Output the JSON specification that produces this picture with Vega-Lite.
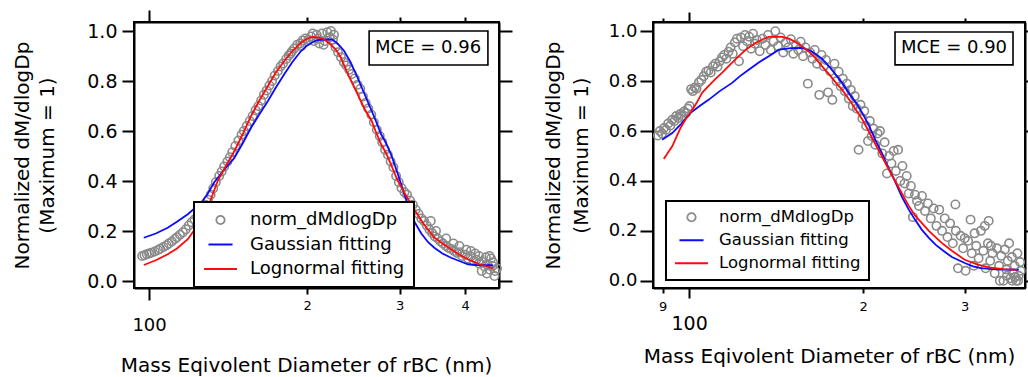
{
  "$schema": "https://vega.github.io/schema/vega-lite/v6.json",
  "padding": {"left": 11, "top": 8, "right": 0, "bottom": 0},
  "spacing": 28,
  "resolve": {"scale": {"color": "independent", "shape": "independent", "size": "independent"}, "legend": {"color": "independent", "shape": "independent", "size": "independent"}},
  "config": {
    "font": "DejaVu Sans",
    "view": {"stroke": "black", "strokeWidth": 2},
    "axis": {"grid": false, "domain": true, "domainColor": "black", "domainWidth": 2, "tickColor": "black", "tickWidth": 2, "labelColor": "black", "titleColor": "black", "titleFontWeight": "normal", "labelFont": "DejaVu Sans", "titleFont": "DejaVu Sans", "labelOverlap": false, "labelFlush": false, "labelBound": false},
    "legend": {"labelFont": "DejaVu Sans", "labelColor": "black", "labelLimit": 0}
  },
  "datasets": {
    "s1": [
      {"d":97,"v":0.100,"series":"norm_dMdlogDp"},{"d":98,"v":0.103,"series":"norm_dMdlogDp"},{"d":99,"v":0.107,"series":"norm_dMdlogDp"},{"d":100,"v":0.110,"series":"norm_dMdlogDp"},{"d":101,"v":0.113,"series":"norm_dMdlogDp"},{"d":102.5,"v":0.118,"series":"norm_dMdlogDp"},{"d":104,"v":0.124,"series":"norm_dMdlogDp"},{"d":105,"v":0.129,"series":"norm_dMdlogDp"},{"d":106.5,"v":0.136,"series":"norm_dMdlogDp"},{"d":108,"v":0.143,"series":"norm_dMdlogDp"},{"d":109,"v":0.150,"series":"norm_dMdlogDp"},{"d":110.5,"v":0.158,"series":"norm_dMdlogDp"},{"d":112,"v":0.168,"series":"norm_dMdlogDp"},{"d":113,"v":0.175,"series":"norm_dMdlogDp"},{"d":114.5,"v":0.185,"series":"norm_dMdlogDp"},{"d":116,"v":0.195,"series":"norm_dMdlogDp"},{"d":117.5,"v":0.207,"series":"norm_dMdlogDp"},{"d":119,"v":0.222,"series":"norm_dMdlogDp"},{"d":120.5,"v":0.235,"series":"norm_dMdlogDp"},{"d":122,"v":0.246,"series":"norm_dMdlogDp"},{"d":123.5,"v":0.255,"series":"norm_dMdlogDp"},{"d":125,"v":0.270,"series":"norm_dMdlogDp"},{"d":126.5,"v":0.285,"series":"norm_dMdlogDp"},{"d":128,"v":0.305,"series":"norm_dMdlogDp"},{"d":129.5,"v":0.325,"series":"norm_dMdlogDp"},{"d":131,"v":0.345,"series":"norm_dMdlogDp"},{"d":132.5,"v":0.370,"series":"norm_dMdlogDp"},{"d":134,"v":0.395,"series":"norm_dMdlogDp"},{"d":136,"v":0.420,"series":"norm_dMdlogDp"},{"d":137.5,"v":0.438,"series":"norm_dMdlogDp"},{"d":139,"v":0.458,"series":"norm_dMdlogDp"},{"d":141,"v":0.478,"series":"norm_dMdlogDp"},{"d":142.5,"v":0.495,"series":"norm_dMdlogDp"},{"d":144,"v":0.515,"series":"norm_dMdlogDp"},{"d":146,"v":0.540,"series":"norm_dMdlogDp"},{"d":148,"v":0.562,"series":"norm_dMdlogDp"},{"d":150,"v":0.585,"series":"norm_dMdlogDp"},{"d":151.5,"v":0.600,"series":"norm_dMdlogDp"},{"d":153.5,"v":0.620,"series":"norm_dMdlogDp"},{"d":155.5,"v":0.640,"series":"norm_dMdlogDp"},{"d":157.5,"v":0.660,"series":"norm_dMdlogDp"},{"d":159.5,"v":0.683,"series":"norm_dMdlogDp"},{"d":161.5,"v":0.700,"series":"norm_dMdlogDp"},{"d":163.5,"v":0.722,"series":"norm_dMdlogDp"},{"d":165.5,"v":0.745,"series":"norm_dMdlogDp"},{"d":167.5,"v":0.762,"series":"norm_dMdlogDp"},{"d":169.5,"v":0.782,"series":"norm_dMdlogDp"},{"d":171.5,"v":0.800,"series":"norm_dMdlogDp"},{"d":173.5,"v":0.822,"series":"norm_dMdlogDp"},{"d":176,"v":0.840,"series":"norm_dMdlogDp"},{"d":178,"v":0.858,"series":"norm_dMdlogDp"},{"d":180,"v":0.870,"series":"norm_dMdlogDp"},{"d":182.5,"v":0.888,"series":"norm_dMdlogDp"},{"d":184.5,"v":0.902,"series":"norm_dMdlogDp"},{"d":187,"v":0.918,"series":"norm_dMdlogDp"},{"d":189,"v":0.930,"series":"norm_dMdlogDp"},{"d":191.5,"v":0.945,"series":"norm_dMdlogDp"},{"d":194,"v":0.950,"series":"norm_dMdlogDp"},{"d":196,"v":0.962,"series":"norm_dMdlogDp"},{"d":198.5,"v":0.970,"series":"norm_dMdlogDp"},{"d":201,"v":0.965,"series":"norm_dMdlogDp"},{"d":203.5,"v":0.978,"series":"norm_dMdlogDp"},{"d":206,"v":0.960,"series":"norm_dMdlogDp"},{"d":208.5,"v":0.985,"series":"norm_dMdlogDp"},{"d":211,"v":0.950,"series":"norm_dMdlogDp"},{"d":213.5,"v":0.990,"series":"norm_dMdlogDp"},{"d":216,"v":0.960,"series":"norm_dMdlogDp"},{"d":218.5,"v":0.995,"series":"norm_dMdlogDp"},{"d":221,"v":0.975,"series":"norm_dMdlogDp"},{"d":224,"v":0.965,"series":"norm_dMdlogDp"},{"d":226.5,"v":0.935,"series":"norm_dMdlogDp"},{"d":229,"v":0.915,"series":"norm_dMdlogDp"},{"d":232,"v":0.895,"series":"norm_dMdlogDp"},{"d":235,"v":0.875,"series":"norm_dMdlogDp"},{"d":237.5,"v":0.862,"series":"norm_dMdlogDp"},{"d":240.5,"v":0.845,"series":"norm_dMdlogDp"},{"d":243.5,"v":0.828,"series":"norm_dMdlogDp"},{"d":246.5,"v":0.810,"series":"norm_dMdlogDp"},{"d":249.5,"v":0.785,"series":"norm_dMdlogDp"},{"d":252.5,"v":0.768,"series":"norm_dMdlogDp"},{"d":255.5,"v":0.738,"series":"norm_dMdlogDp"},{"d":258.5,"v":0.712,"series":"norm_dMdlogDp"},{"d":261.5,"v":0.690,"series":"norm_dMdlogDp"},{"d":265,"v":0.665,"series":"norm_dMdlogDp"},{"d":268,"v":0.635,"series":"norm_dMdlogDp"},{"d":271.5,"v":0.605,"series":"norm_dMdlogDp"},{"d":275,"v":0.580,"series":"norm_dMdlogDp"},{"d":278,"v":0.555,"series":"norm_dMdlogDp"},{"d":281.5,"v":0.525,"series":"norm_dMdlogDp"},{"d":285,"v":0.505,"series":"norm_dMdlogDp"},{"d":288.5,"v":0.478,"series":"norm_dMdlogDp"},{"d":292,"v":0.455,"series":"norm_dMdlogDp"},{"d":295.5,"v":0.420,"series":"norm_dMdlogDp"},{"d":299,"v":0.395,"series":"norm_dMdlogDp"},{"d":302.5,"v":0.372,"series":"norm_dMdlogDp"},{"d":306.5,"v":0.355,"series":"norm_dMdlogDp"},{"d":310,"v":0.345,"series":"norm_dMdlogDp"},{"d":314,"v":0.322,"series":"norm_dMdlogDp"},{"d":318,"v":0.305,"series":"norm_dMdlogDp"},{"d":322,"v":0.285,"series":"norm_dMdlogDp"},{"d":326,"v":0.268,"series":"norm_dMdlogDp"},{"d":330,"v":0.250,"series":"norm_dMdlogDp"},{"d":334,"v":0.240,"series":"norm_dMdlogDp"},{"d":338,"v":0.222,"series":"norm_dMdlogDp"},{"d":342,"v":0.205,"series":"norm_dMdlogDp"},{"d":346,"v":0.192,"series":"norm_dMdlogDp"},{"d":350,"v":0.178,"series":"norm_dMdlogDp"},{"d":354.5,"v":0.170,"series":"norm_dMdlogDp"},{"d":359,"v":0.158,"series":"norm_dMdlogDp"},{"d":363,"v":0.150,"series":"norm_dMdlogDp"},{"d":367.5,"v":0.140,"series":"norm_dMdlogDp"},{"d":372,"v":0.132,"series":"norm_dMdlogDp"},{"d":376.5,"v":0.128,"series":"norm_dMdlogDp"},{"d":381,"v":0.120,"series":"norm_dMdlogDp"},{"d":386,"v":0.112,"series":"norm_dMdlogDp"},{"d":390.5,"v":0.115,"series":"norm_dMdlogDp"},{"d":395,"v":0.100,"series":"norm_dMdlogDp"},{"d":400,"v":0.105,"series":"norm_dMdlogDp"},{"d":405,"v":0.090,"series":"norm_dMdlogDp"},{"d":410,"v":0.098,"series":"norm_dMdlogDp"},{"d":415,"v":0.080,"series":"norm_dMdlogDp"},{"d":420,"v":0.085,"series":"norm_dMdlogDp"},{"d":425,"v":0.070,"series":"norm_dMdlogDp"},{"d":430,"v":0.078,"series":"norm_dMdlogDp"},{"d":435.5,"v":0.058,"series":"norm_dMdlogDp"},{"d":441,"v":0.065,"series":"norm_dMdlogDp"},{"d":446,"v":0.045,"series":"norm_dMdlogDp"},{"d":451.5,"v":0.060,"series":"norm_dMdlogDp"},{"d":456,"v":0.040,"series":"norm_dMdlogDp"},
      {"d":205,"v":0.990,"series":"norm_dMdlogDp"},{"d":210,"v":0.970,"series":"norm_dMdlogDp"},{"d":215,"v":0.945,"series":"norm_dMdlogDp"},{"d":222,"v":1.000,"series":"norm_dMdlogDp"},{"d":225,"v":0.985,"series":"norm_dMdlogDp"},{"d":195,"v":0.940,"series":"norm_dMdlogDp"},{"d":186,"v":0.910,"series":"norm_dMdlogDp"},{"d":344,"v":0.240,"series":"norm_dMdlogDp"},{"d":352,"v":0.200,"series":"norm_dMdlogDp"},{"d":368,"v":0.170,"series":"norm_dMdlogDp"},{"d":380,"v":0.150,"series":"norm_dMdlogDp"},{"d":402,"v":0.125,"series":"norm_dMdlogDp"},{"d":418,"v":0.110,"series":"norm_dMdlogDp"},{"d":425,"v":0.100,"series":"norm_dMdlogDp"},{"d":440,"v":0.030,"series":"norm_dMdlogDp"},{"d":448,"v":0.090,"series":"norm_dMdlogDp"},{"d":455,"v":0.020,"series":"norm_dMdlogDp"},{"d":452,"v":0.075,"series":"norm_dMdlogDp"},{"d":445,"v":0.100,"series":"norm_dMdlogDp"},{"d":438,"v":0.095,"series":"norm_dMdlogDp"},{"d":410,"v":0.120,"series":"norm_dMdlogDp"},{"d":390,"v":0.140,"series":"norm_dMdlogDp"},{"d":430,"v":0.040,"series":"norm_dMdlogDp"},{"d":460,"v":0.050,"series":"norm_dMdlogDp"}
    ],
    "l1": [
      {"d":97.7,"v":0.173,"series":"Gaussian fitting"},{"d":103,"v":0.190,"series":"Gaussian fitting"},{"d":108.5,"v":0.213,"series":"Gaussian fitting"},{"d":113,"v":0.237,"series":"Gaussian fitting"},{"d":118.5,"v":0.267,"series":"Gaussian fitting"},{"d":125.6,"v":0.313,"series":"Gaussian fitting"},{"d":129,"v":0.345,"series":"Gaussian fitting"},{"d":133.1,"v":0.395,"series":"Gaussian fitting"},{"d":139,"v":0.445,"series":"Gaussian fitting"},{"d":145.4,"v":0.493,"series":"Gaussian fitting"},{"d":151,"v":0.553,"series":"Gaussian fitting"},{"d":156.4,"v":0.613,"series":"Gaussian fitting"},{"d":162,"v":0.665,"series":"Gaussian fitting"},{"d":168.4,"v":0.720,"series":"Gaussian fitting"},{"d":174.5,"v":0.775,"series":"Gaussian fitting"},{"d":180.9,"v":0.827,"series":"Gaussian fitting"},{"d":187.5,"v":0.876,"series":"Gaussian fitting"},{"d":194.7,"v":0.920,"series":"Gaussian fitting"},{"d":199.5,"v":0.940,"series":"Gaussian fitting"},{"d":204.1,"v":0.953,"series":"Gaussian fitting"},{"d":208,"v":0.962,"series":"Gaussian fitting"},{"d":212,"v":0.965,"series":"Gaussian fitting"},{"d":218,"v":0.966,"series":"Gaussian fitting"},{"d":223,"v":0.966,"series":"Gaussian fitting"},{"d":227,"v":0.955,"series":"Gaussian fitting"},{"d":231,"v":0.940,"series":"Gaussian fitting"},{"d":235.3,"v":0.920,"series":"Gaussian fitting"},{"d":242,"v":0.875,"series":"Gaussian fitting"},{"d":249.6,"v":0.813,"series":"Gaussian fitting"},{"d":257,"v":0.750,"series":"Gaussian fitting"},{"d":265.5,"v":0.680,"series":"Gaussian fitting"},{"d":271,"v":0.635,"series":"Gaussian fitting"},{"d":276.7,"v":0.587,"series":"Gaussian fitting"},{"d":283,"v":0.550,"series":"Gaussian fitting"},{"d":289.7,"v":0.500,"series":"Gaussian fitting"},{"d":297,"v":0.435,"series":"Gaussian fitting"},{"d":305,"v":0.360,"series":"Gaussian fitting"},{"d":313,"v":0.290,"series":"Gaussian fitting"},{"d":320.6,"v":0.235,"series":"Gaussian fitting"},{"d":330,"v":0.190,"series":"Gaussian fitting"},{"d":340,"v":0.155,"series":"Gaussian fitting"},{"d":349.4,"v":0.133,"series":"Gaussian fitting"},{"d":362,"v":0.110,"series":"Gaussian fitting"},{"d":376,"v":0.093,"series":"Gaussian fitting"},{"d":390,"v":0.080,"series":"Gaussian fitting"},{"d":405,"v":0.067,"series":"Gaussian fitting"},{"d":420,"v":0.064,"series":"Gaussian fitting"},{"d":435,"v":0.063,"series":"Gaussian fitting"},{"d":451.6,"v":0.063,"series":"Gaussian fitting"},
      {"d":97.7,"v":0.064,"series":"Lognormal fitting"},{"d":103,"v":0.083,"series":"Lognormal fitting"},{"d":108.5,"v":0.107,"series":"Lognormal fitting"},{"d":113,"v":0.130,"series":"Lognormal fitting"},{"d":118.5,"v":0.167,"series":"Lognormal fitting"},{"d":124,"v":0.225,"series":"Lognormal fitting"},{"d":129.3,"v":0.293,"series":"Lognormal fitting"},{"d":135.1,"v":0.400,"series":"Lognormal fitting"},{"d":140,"v":0.460,"series":"Lognormal fitting"},{"d":145.4,"v":0.520,"series":"Lognormal fitting"},{"d":151,"v":0.590,"series":"Lognormal fitting"},{"d":156.4,"v":0.660,"series":"Lognormal fitting"},{"d":162,"v":0.720,"series":"Lognormal fitting"},{"d":168.4,"v":0.780,"series":"Lognormal fitting"},{"d":174.5,"v":0.835,"series":"Lognormal fitting"},{"d":180.9,"v":0.880,"series":"Lognormal fitting"},{"d":187.5,"v":0.920,"series":"Lognormal fitting"},{"d":194.7,"v":0.953,"series":"Lognormal fitting"},{"d":199.5,"v":0.968,"series":"Lognormal fitting"},{"d":204.1,"v":0.976,"series":"Lognormal fitting"},{"d":210,"v":0.974,"series":"Lognormal fitting"},{"d":215.6,"v":0.967,"series":"Lognormal fitting"},{"d":222,"v":0.945,"series":"Lognormal fitting"},{"d":227,"v":0.925,"series":"Lognormal fitting"},{"d":232,"v":0.893,"series":"Lognormal fitting"},{"d":240,"v":0.820,"series":"Lognormal fitting"},{"d":249.6,"v":0.747,"series":"Lognormal fitting"},{"d":257,"v":0.690,"series":"Lognormal fitting"},{"d":265.5,"v":0.640,"series":"Lognormal fitting"},{"d":270,"v":0.600,"series":"Lognormal fitting"},{"d":276.7,"v":0.547,"series":"Lognormal fitting"},{"d":283,"v":0.510,"series":"Lognormal fitting"},{"d":289.7,"v":0.460,"series":"Lognormal fitting"},{"d":297,"v":0.405,"series":"Lognormal fitting"},{"d":308,"v":0.345,"series":"Lognormal fitting"},{"d":318,"v":0.295,"series":"Lognormal fitting"},{"d":333,"v":0.230,"series":"Lognormal fitting"},{"d":349,"v":0.175,"series":"Lognormal fitting"},{"d":362,"v":0.150,"series":"Lognormal fitting"},{"d":376,"v":0.127,"series":"Lognormal fitting"},{"d":390,"v":0.105,"series":"Lognormal fitting"},{"d":405,"v":0.087,"series":"Lognormal fitting"},{"d":425,"v":0.068,"series":"Lognormal fitting"},{"d":452,"v":0.050,"series":"Lognormal fitting"}
    ],
    "s2": [
      {"d":88.3,"v":0.582,"series":"norm_dMdlogDp"},{"d":89.0,"v":0.600,"series":"norm_dMdlogDp"},{"d":89.8,"v":0.590,"series":"norm_dMdlogDp"},{"d":90.5,"v":0.612,"series":"norm_dMdlogDp"},{"d":91.2,"v":0.605,"series":"norm_dMdlogDp"},{"d":92.0,"v":0.630,"series":"norm_dMdlogDp"},{"d":92.8,"v":0.622,"series":"norm_dMdlogDp"},{"d":93.5,"v":0.645,"series":"norm_dMdlogDp"},{"d":94.3,"v":0.640,"series":"norm_dMdlogDp"},{"d":95.0,"v":0.660,"series":"norm_dMdlogDp"},{"d":95.8,"v":0.652,"series":"norm_dMdlogDp"},{"d":96.5,"v":0.668,"series":"norm_dMdlogDp"},{"d":97.2,"v":0.660,"series":"norm_dMdlogDp"},{"d":98.0,"v":0.678,"series":"norm_dMdlogDp"},{"d":98.8,"v":0.672,"series":"norm_dMdlogDp"},{"d":99.5,"v":0.690,"series":"norm_dMdlogDp"},{"d":100.2,"v":0.700,"series":"norm_dMdlogDp"},{"d":100.8,"v":0.768,"series":"norm_dMdlogDp"},{"d":101.5,"v":0.760,"series":"norm_dMdlogDp"},{"d":102.3,"v":0.775,"series":"norm_dMdlogDp"},{"d":103.0,"v":0.770,"series":"norm_dMdlogDp"},{"d":104.0,"v":0.795,"series":"norm_dMdlogDp"},{"d":105.0,"v":0.805,"series":"norm_dMdlogDp"},{"d":106.0,"v":0.820,"series":"norm_dMdlogDp"},{"d":107.0,"v":0.838,"series":"norm_dMdlogDp"},{"d":108.0,"v":0.842,"series":"norm_dMdlogDp"},{"d":109.0,"v":0.835,"series":"norm_dMdlogDp"},{"d":110.0,"v":0.860,"series":"norm_dMdlogDp"},{"d":111.0,"v":0.870,"series":"norm_dMdlogDp"},{"d":112.0,"v":0.858,"series":"norm_dMdlogDp"},{"d":113.0,"v":0.880,"series":"norm_dMdlogDp"},{"d":114.0,"v":0.895,"series":"norm_dMdlogDp"},{"d":115.0,"v":0.905,"series":"norm_dMdlogDp"},{"d":116.0,"v":0.890,"series":"norm_dMdlogDp"},{"d":117.0,"v":0.918,"series":"norm_dMdlogDp"},{"d":118.0,"v":0.935,"series":"norm_dMdlogDp"},{"d":119.0,"v":0.910,"series":"norm_dMdlogDp"},{"d":120.0,"v":0.955,"series":"norm_dMdlogDp"},{"d":121.0,"v":0.970,"series":"norm_dMdlogDp"},{"d":122.0,"v":0.880,"series":"norm_dMdlogDp"},{"d":123.0,"v":0.975,"series":"norm_dMdlogDp"},{"d":124.0,"v":0.940,"series":"norm_dMdlogDp"},{"d":125.0,"v":0.985,"series":"norm_dMdlogDp"},{"d":126.0,"v":0.960,"series":"norm_dMdlogDp"},{"d":127.0,"v":0.978,"series":"norm_dMdlogDp"},{"d":128.0,"v":0.930,"series":"norm_dMdlogDp"},{"d":129.0,"v":0.990,"series":"norm_dMdlogDp"},{"d":130.0,"v":0.950,"series":"norm_dMdlogDp"},{"d":131.0,"v":0.965,"series":"norm_dMdlogDp"},{"d":132.5,"v":0.920,"series":"norm_dMdlogDp"},{"d":134.0,"v":0.970,"series":"norm_dMdlogDp"},{"d":135.5,"v":0.945,"series":"norm_dMdlogDp"},{"d":137.0,"v":0.985,"series":"norm_dMdlogDp"},{"d":138.5,"v":0.925,"series":"norm_dMdlogDp"},{"d":140.0,"v":0.960,"series":"norm_dMdlogDp"},{"d":141.0,"v":1.000,"series":"norm_dMdlogDp"},{"d":142.5,"v":0.940,"series":"norm_dMdlogDp"},{"d":144.0,"v":0.975,"series":"norm_dMdlogDp"},{"d":145.5,"v":0.915,"series":"norm_dMdlogDp"},{"d":147.0,"v":0.955,"series":"norm_dMdlogDp"},{"d":148.5,"v":0.935,"series":"norm_dMdlogDp"},{"d":150.0,"v":0.968,"series":"norm_dMdlogDp"},{"d":151.5,"v":0.910,"series":"norm_dMdlogDp"},{"d":153.0,"v":0.945,"series":"norm_dMdlogDp"},{"d":154.5,"v":0.925,"series":"norm_dMdlogDp"},{"d":156.0,"v":0.958,"series":"norm_dMdlogDp"},{"d":157.5,"v":0.900,"series":"norm_dMdlogDp"},{"d":159.0,"v":0.935,"series":"norm_dMdlogDp"},{"d":160.5,"v":0.790,"series":"norm_dMdlogDp"},{"d":162.0,"v":0.915,"series":"norm_dMdlogDp"},{"d":163.5,"v":0.890,"series":"norm_dMdlogDp"},{"d":165.0,"v":0.925,"series":"norm_dMdlogDp"},{"d":166.5,"v":0.870,"series":"norm_dMdlogDp"},{"d":168.0,"v":0.745,"series":"norm_dMdlogDp"},{"d":169.5,"v":0.905,"series":"norm_dMdlogDp"},{"d":171.0,"v":0.860,"series":"norm_dMdlogDp"},{"d":172.5,"v":0.885,"series":"norm_dMdlogDp"},{"d":174.0,"v":0.755,"series":"norm_dMdlogDp"},{"d":175.5,"v":0.840,"series":"norm_dMdlogDp"},{"d":177.0,"v":0.725,"series":"norm_dMdlogDp"},{"d":178.5,"v":0.870,"series":"norm_dMdlogDp"},{"d":180.0,"v":0.800,"series":"norm_dMdlogDp"},{"d":181.5,"v":0.838,"series":"norm_dMdlogDp"},{"d":183.0,"v":0.780,"series":"norm_dMdlogDp"},{"d":184.5,"v":0.810,"series":"norm_dMdlogDp"},{"d":186.0,"v":0.760,"series":"norm_dMdlogDp"},{"d":187.5,"v":0.790,"series":"norm_dMdlogDp"},{"d":189.0,"v":0.730,"series":"norm_dMdlogDp"},{"d":190.5,"v":0.765,"series":"norm_dMdlogDp"},{"d":192.0,"v":0.700,"series":"norm_dMdlogDp"},{"d":193.5,"v":0.740,"series":"norm_dMdlogDp"},{"d":195.0,"v":0.690,"series":"norm_dMdlogDp"},{"d":196.5,"v":0.525,"series":"norm_dMdlogDp"},{"d":198.0,"v":0.705,"series":"norm_dMdlogDp"},{"d":199.5,"v":0.650,"series":"norm_dMdlogDp"},{"d":201.0,"v":0.680,"series":"norm_dMdlogDp"},{"d":202.5,"v":0.620,"series":"norm_dMdlogDp"},{"d":204.0,"v":0.560,"series":"norm_dMdlogDp"},{"d":205.5,"v":0.640,"series":"norm_dMdlogDp"},{"d":207.0,"v":0.580,"series":"norm_dMdlogDp"},{"d":208.5,"v":0.610,"series":"norm_dMdlogDp"},{"d":210.0,"v":0.545,"series":"norm_dMdlogDp"},{"d":212.0,"v":0.590,"series":"norm_dMdlogDp"},{"d":214.0,"v":0.600,"series":"norm_dMdlogDp"},{"d":216.0,"v":0.510,"series":"norm_dMdlogDp"},{"d":218.0,"v":0.555,"series":"norm_dMdlogDp"},{"d":220.0,"v":0.430,"series":"norm_dMdlogDp"},{"d":222.0,"v":0.500,"series":"norm_dMdlogDp"},{"d":224.0,"v":0.470,"series":"norm_dMdlogDp"},{"d":226.0,"v":0.520,"series":"norm_dMdlogDp"},{"d":228.0,"v":0.440,"series":"norm_dMdlogDp"},{"d":230.0,"v":0.525,"series":"norm_dMdlogDp"},{"d":232.0,"v":0.400,"series":"norm_dMdlogDp"},{"d":234.0,"v":0.460,"series":"norm_dMdlogDp"},{"d":236.0,"v":0.390,"series":"norm_dMdlogDp"},{"d":238.0,"v":0.420,"series":"norm_dMdlogDp"},{"d":240.0,"v":0.350,"series":"norm_dMdlogDp"},{"d":242.0,"v":0.380,"series":"norm_dMdlogDp"},{"d":244.0,"v":0.255,"series":"norm_dMdlogDp"},{"d":246.0,"v":0.345,"series":"norm_dMdlogDp"},{"d":248.0,"v":0.320,"series":"norm_dMdlogDp"},{"d":250.0,"v":0.300,"series":"norm_dMdlogDp"},{"d":253.0,"v":0.340,"series":"norm_dMdlogDp"},{"d":256.0,"v":0.280,"series":"norm_dMdlogDp"},{"d":259.0,"v":0.310,"series":"norm_dMdlogDp"},{"d":262.0,"v":0.250,"series":"norm_dMdlogDp"},{"d":265.0,"v":0.290,"series":"norm_dMdlogDp"},{"d":268.0,"v":0.220,"series":"norm_dMdlogDp"},{"d":271.0,"v":0.285,"series":"norm_dMdlogDp"},{"d":274.0,"v":0.200,"series":"norm_dMdlogDp"},{"d":277.0,"v":0.250,"series":"norm_dMdlogDp"},{"d":280.0,"v":0.175,"series":"norm_dMdlogDp"},{"d":283.0,"v":0.230,"series":"norm_dMdlogDp"},{"d":286.0,"v":0.150,"series":"norm_dMdlogDp"},{"d":289.0,"v":0.306,"series":"norm_dMdlogDp"},{"d":289.5,"v":0.200,"series":"norm_dMdlogDp"},{"d":292.0,"v":0.050,"series":"norm_dMdlogDp"},{"d":295.0,"v":0.180,"series":"norm_dMdlogDp"},{"d":298.0,"v":0.130,"series":"norm_dMdlogDp"},{"d":301.0,"v":0.040,"series":"norm_dMdlogDp"},{"d":304.0,"v":0.160,"series":"norm_dMdlogDp"},{"d":307.0,"v":0.245,"series":"norm_dMdlogDp"},{"d":308.5,"v":0.110,"series":"norm_dMdlogDp"},{"d":311.0,"v":0.060,"series":"norm_dMdlogDp"},{"d":314.0,"v":0.140,"series":"norm_dMdlogDp"},{"d":317.0,"v":0.090,"series":"norm_dMdlogDp"},{"d":320.0,"v":0.200,"series":"norm_dMdlogDp"},{"d":323.0,"v":0.120,"series":"norm_dMdlogDp"},{"d":326.0,"v":0.050,"series":"norm_dMdlogDp"},{"d":329.0,"v":0.150,"series":"norm_dMdlogDp"},{"d":332.0,"v":0.080,"series":"norm_dMdlogDp"},{"d":335.0,"v":0.110,"series":"norm_dMdlogDp"},{"d":338.0,"v":0.030,"series":"norm_dMdlogDp"},{"d":341.0,"v":0.130,"series":"norm_dMdlogDp"},{"d":344.0,"v":0.060,"series":"norm_dMdlogDp"},{"d":347.0,"v":0.100,"series":"norm_dMdlogDp"},{"d":350.0,"v":0.000,"series":"norm_dMdlogDp"},{"d":352.0,"v":0.125,"series":"norm_dMdlogDp"},{"d":354.0,"v":0.045,"series":"norm_dMdlogDp"},{"d":356.0,"v":0.080,"series":"norm_dMdlogDp"},{"d":358.0,"v":0.150,"series":"norm_dMdlogDp"},{"d":360.0,"v":0.010,"series":"norm_dMdlogDp"},{"d":362.0,"v":0.095,"series":"norm_dMdlogDp"},{"d":364.0,"v":0.030,"series":"norm_dMdlogDp"},{"d":366.0,"v":0.060,"series":"norm_dMdlogDp"},{"d":368.0,"v":0.000,"series":"norm_dMdlogDp"},{"d":370.0,"v":0.110,"series":"norm_dMdlogDp"},{"d":372.0,"v":0.020,"series":"norm_dMdlogDp"},{"d":374.0,"v":0.075,"series":"norm_dMdlogDp"},{"d":375.0,"v":0.040,"series":"norm_dMdlogDp"},
      {"d":345,"v":0.000,"series":"norm_dMdlogDp"},{"d":355,"v":0.020,"series":"norm_dMdlogDp"},{"d":362.5,"v":0.000,"series":"norm_dMdlogDp"},{"d":371,"v":0.000,"series":"norm_dMdlogDp"},{"d":366.5,"v":0.015,"series":"norm_dMdlogDp"},{"d":300,"v":0.170,"series":"norm_dMdlogDp"},{"d":312,"v":0.190,"series":"norm_dMdlogDp"},{"d":325,"v":0.220,"series":"norm_dMdlogDp"},{"d":330,"v":0.240,"series":"norm_dMdlogDp"},{"d":333,"v":0.140,"series":"norm_dMdlogDp"}
    ],
    "l2": [
      {"d":89.8,"v":0.565,"series":"Gaussian fitting"},{"d":93.5,"v":0.592,"series":"Gaussian fitting"},{"d":97,"v":0.630,"series":"Gaussian fitting"},{"d":100.5,"v":0.672,"series":"Gaussian fitting"},{"d":104,"v":0.698,"series":"Gaussian fitting"},{"d":108.2,"v":0.726,"series":"Gaussian fitting"},{"d":113,"v":0.760,"series":"Gaussian fitting"},{"d":118.7,"v":0.793,"series":"Gaussian fitting"},{"d":122.5,"v":0.820,"series":"Gaussian fitting"},{"d":126.8,"v":0.846,"series":"Gaussian fitting"},{"d":132,"v":0.875,"series":"Gaussian fitting"},{"d":137.4,"v":0.900,"series":"Gaussian fitting"},{"d":143,"v":0.926,"series":"Gaussian fitting"},{"d":150,"v":0.932,"series":"Gaussian fitting"},{"d":156.9,"v":0.933,"series":"Gaussian fitting"},{"d":163,"v":0.920,"series":"Gaussian fitting"},{"d":169.8,"v":0.890,"series":"Gaussian fitting"},{"d":176,"v":0.850,"series":"Gaussian fitting"},{"d":184,"v":0.793,"series":"Gaussian fitting"},{"d":190,"v":0.745,"series":"Gaussian fitting"},{"d":195,"v":0.710,"series":"Gaussian fitting"},{"d":199.5,"v":0.672,"series":"Gaussian fitting"},{"d":205,"v":0.620,"series":"Gaussian fitting"},{"d":210,"v":0.565,"series":"Gaussian fitting"},{"d":215.6,"v":0.512,"series":"Gaussian fitting"},{"d":220,"v":0.465,"series":"Gaussian fitting"},{"d":226,"v":0.410,"series":"Gaussian fitting"},{"d":233.3,"v":0.338,"series":"Gaussian fitting"},{"d":240,"v":0.285,"series":"Gaussian fitting"},{"d":246,"v":0.245,"series":"Gaussian fitting"},{"d":252.9,"v":0.204,"series":"Gaussian fitting"},{"d":260,"v":0.172,"series":"Gaussian fitting"},{"d":267,"v":0.145,"series":"Gaussian fitting"},{"d":274,"v":0.124,"series":"Gaussian fitting"},{"d":285,"v":0.095,"series":"Gaussian fitting"},{"d":300,"v":0.071,"series":"Gaussian fitting"},{"d":310,"v":0.058,"series":"Gaussian fitting"},{"d":320,"v":0.051,"series":"Gaussian fitting"},{"d":335,"v":0.047,"series":"Gaussian fitting"},{"d":350,"v":0.045,"series":"Gaussian fitting"},{"d":372,"v":0.044,"series":"Gaussian fitting"},
      {"d":90.4,"v":0.488,"series":"Lognormal fitting"},{"d":92,"v":0.515,"series":"Lognormal fitting"},{"d":93.5,"v":0.539,"series":"Lognormal fitting"},{"d":95,"v":0.575,"series":"Lognormal fitting"},{"d":96.6,"v":0.612,"series":"Lognormal fitting"},{"d":98.5,"v":0.645,"series":"Lognormal fitting"},{"d":100.5,"v":0.672,"series":"Lognormal fitting"},{"d":103,"v":0.712,"series":"Lognormal fitting"},{"d":105.3,"v":0.753,"series":"Lognormal fitting"},{"d":108,"v":0.780,"series":"Lognormal fitting"},{"d":111,"v":0.808,"series":"Lognormal fitting"},{"d":114,"v":0.833,"series":"Lognormal fitting"},{"d":118,"v":0.868,"series":"Lognormal fitting"},{"d":121.9,"v":0.900,"series":"Lognormal fitting"},{"d":126,"v":0.930,"series":"Lognormal fitting"},{"d":130.2,"v":0.953,"series":"Lognormal fitting"},{"d":134,"v":0.967,"series":"Lognormal fitting"},{"d":137.4,"v":0.977,"series":"Lognormal fitting"},{"d":141,"v":0.978,"series":"Lognormal fitting"},{"d":144.9,"v":0.977,"series":"Lognormal fitting"},{"d":149,"v":0.970,"series":"Lognormal fitting"},{"d":154.7,"v":0.950,"series":"Lognormal fitting"},{"d":160,"v":0.925,"series":"Lognormal fitting"},{"d":165,"v":0.895,"series":"Lognormal fitting"},{"d":169.8,"v":0.860,"series":"Lognormal fitting"},{"d":175,"v":0.825,"series":"Lognormal fitting"},{"d":180,"v":0.790,"series":"Lognormal fitting"},{"d":184,"v":0.766,"series":"Lognormal fitting"},{"d":190,"v":0.720,"series":"Lognormal fitting"},{"d":195,"v":0.680,"series":"Lognormal fitting"},{"d":199.5,"v":0.646,"series":"Lognormal fitting"},{"d":205,"v":0.595,"series":"Lognormal fitting"},{"d":210,"v":0.548,"series":"Lognormal fitting"},{"d":215.6,"v":0.499,"series":"Lognormal fitting"},{"d":220,"v":0.460,"series":"Lognormal fitting"},{"d":226,"v":0.410,"series":"Lognormal fitting"},{"d":233.3,"v":0.352,"series":"Lognormal fitting"},{"d":240,"v":0.300,"series":"Lognormal fitting"},{"d":246,"v":0.262,"series":"Lognormal fitting"},{"d":252.9,"v":0.231,"series":"Lognormal fitting"},{"d":260,"v":0.200,"series":"Lognormal fitting"},{"d":267,"v":0.175,"series":"Lognormal fitting"},{"d":274,"v":0.151,"series":"Lognormal fitting"},{"d":285,"v":0.120,"series":"Lognormal fitting"},{"d":300,"v":0.084,"series":"Lognormal fitting"},{"d":315,"v":0.066,"series":"Lognormal fitting"},{"d":330,"v":0.054,"series":"Lognormal fitting"},{"d":350,"v":0.047,"series":"Lognormal fitting"},{"d":369.6,"v":0.044,"series":"Lognormal fitting"}
    ]
  },
  "hconcat": [
    {
      "width": 365,
      "height": 266,
      "resolve": {"axis": {"x": "independent", "y": "independent"}},
      "layer": [
        {
          "data": {"name": "s1"},
          "mark": {"type": "point", "filled": false, "strokeWidth": 1.6, "opacity": 1},
          "encoding": {
            "x": {"field": "d", "type": "quantitative", "scale": {"type": "log", "domain": [93.6, 464], "nice": false, "zero": false},
              "axis": {"orient": "bottom", "values": [100, 200, 300, 400], "labelExpr": "datum.value == 100 ? '100' : datum.value == 200 ? '2' : datum.value == 300 ? '3' : '4'",
                "labelFontSize": {"condition": {"test": "datum.value == 100", "value": 18}, "value": 13},
                "tickSize": {"condition": {"test": "datum.value == 100", "value": 12}, "value": 6},
                "labelPadding": {"condition": {"test": "datum.value == 100", "value": 16}, "value": 5},
                "labelBaseline": "top", "title": "Mass Eqivolent Diameter of rBC (nm)", "titleFontSize": 20, "titlePadding": 21, "titleX": 172}},
            "y": {"field": "v", "type": "quantitative", "scale": {"domain": [-0.028, 1.036], "nice": false, "zero": false},
              "axis": {"orient": "left", "values": [0, 0.2, 0.4, 0.6, 0.8, 1.0], "format": ".1f", "labelFontSize": 19, "tickSize": 12, "labelPadding": 5,
                "title": ["Normalized dM/dlogDp", "(Maximum = 1)"], "titleFontSize": 20, "titleLineHeight": 25, "titlePadding": 29}},
            "color": {"field": "series", "type": "nominal", "scale": {"domain": ["norm_dMdlogDp", "Gaussian fitting", "Lognormal fitting"], "range": ["#8a8a8a", "#0a0aff", "#ff0a0a"]},
              "legend": {"title": null, "orient": "none", "legendX": 60, "legendY": 180, "fillColor": "white", "strokeColor": "black", "padding": 9, "labelFontSize": 18, "labelOffset": 12, "rowPadding": 6.5, "clipHeight": 18, "symbolStrokeWidth": 1.8, "encode": {"legend": {"update": {"strokeWidth": {"value": 2}}}}}},
            "shape": {"field": "series", "type": "nominal", "scale": {"domain": ["norm_dMdlogDp", "Gaussian fitting", "Lognormal fitting"], "range": ["circle", "stroke", "stroke"]},
              "legend": {"title": null, "orient": "none", "legendX": 60, "legendY": 180, "fillColor": "white", "strokeColor": "black", "padding": 9, "labelFontSize": 18, "labelOffset": 12, "rowPadding": 6.5, "clipHeight": 18, "symbolStrokeWidth": 1.8, "encode": {"legend": {"update": {"strokeWidth": {"value": 2}}}}}},
            "size": {"field": "series", "type": "nominal", "scale": {"domain": ["norm_dMdlogDp", "Gaussian fitting", "Lognormal fitting"], "range": [70, 1089, 1089]},
              "legend": {"title": null, "orient": "none", "legendX": 60, "legendY": 180, "fillColor": "white", "strokeColor": "black", "padding": 9, "labelFontSize": 18, "labelOffset": 12, "rowPadding": 6.5, "clipHeight": 18, "symbolStrokeWidth": 1.8, "encode": {"legend": {"update": {"strokeWidth": {"value": 2}}}}}}
          }
        },
        {
          "data": {"name": "l1"},
          "mark": {"type": "line", "strokeWidth": 1.8},
          "encoding": {
            "x": {"field": "d", "type": "quantitative", "scale": {"type": "log", "domain": [93.6, 464], "nice": false, "zero": false},
              "axis": {"orient": "top", "values": [100, 200, 300, 400], "labels": false, "title": null,
                "tickSize": {"condition": {"test": "datum.value == 100", "value": 12}, "value": 5}}},
            "y": {"field": "v", "type": "quantitative", "scale": {"domain": [-0.028, 1.036], "nice": false, "zero": false},
              "axis": {"orient": "right", "values": [0, 0.2, 0.4, 0.6, 0.8, 1.0], "labels": false, "tickSize": 13, "title": null}},
            "color": {"field": "series", "type": "nominal", "scale": {"domain": ["norm_dMdlogDp", "Gaussian fitting", "Lognormal fitting"], "range": ["#8a8a8a", "#0a0aff", "#ff0a0a"]},
              "legend": {"title": null, "orient": "none", "legendX": 60, "legendY": 180, "fillColor": "white", "strokeColor": "black", "padding": 9, "labelFontSize": 18, "labelOffset": 12, "rowPadding": 6.5, "clipHeight": 18, "symbolStrokeWidth": 1.8, "encode": {"legend": {"update": {"strokeWidth": {"value": 2}}}}}}
          }
        },
        {
          "data": {"values": [{"label": "MCE = 0.96"}]},
          "mark": {"type": "rect", "fill": "white", "stroke": "black", "strokeWidth": 1.6},
          "encoding": {
            "x": {"datum": 262.5, "axis": null}, "x2": {"datum": 442},
            "y": {"datum": 1.0, "axis": null}, "y2": {"datum": 0.864}
          }
        },
        {
          "data": {"values": [{"label": "MCE = 0.96"}]},
          "mark": {"type": "text", "fontSize": 18, "font": "DejaVu Sans", "color": "black", "baseline": "middle", "align": "center"},
          "encoding": {
            "x": {"datum": 340, "axis": null},
            "y": {"datum": 0.932, "axis": null},
            "text": {"field": "label"}
          }
        }
      ]
    },
    {
      "width": 372,
      "height": 266,
      "resolve": {"axis": {"x": "independent", "y": "independent"}},
      "layer": [
        {
          "data": {"name": "s2"},
          "mark": {"type": "point", "filled": false, "strokeWidth": 1.6, "opacity": 1},
          "encoding": {
            "x": {"field": "d", "type": "quantitative", "scale": {"type": "log", "domain": [86.6, 381.4], "nice": false, "zero": false},
              "axis": {"orient": "bottom", "values": [90, 100, 200, 300], "labelExpr": "datum.value == 100 ? '100' : datum.value == 90 ? '9' : datum.value == 200 ? '2' : '3'",
                "labelFontSize": {"condition": {"test": "datum.value == 100", "value": 19}, "value": 13},
                "tickSize": {"condition": {"test": "datum.value == 100", "value": 10}, "value": 5},
                "labelPadding": {"condition": {"test": "datum.value == 100", "value": 16}, "value": 7},
                "labelBaseline": "top", "title": "Mass Eqivolent Diameter of rBC (nm)", "titleFontSize": 20, "titlePadding": 13, "titleX": 176}},
            "y": {"field": "v", "type": "quantitative", "scale": {"domain": [-0.029, 1.037], "nice": false, "zero": false},
              "axis": {"orient": "left", "values": [0, 0.2, 0.4, 0.6, 0.8, 1.0], "format": ".1f", "labelFontSize": 18, "tickSize": 13, "labelPadding": 3,
                "title": ["Normalized dM/dlogDp", "(Maximum = 1)"], "titleFontSize": 20, "titleLineHeight": 28, "titlePadding": 17}},
            "color": {"field": "series", "type": "nominal", "scale": {"domain": ["norm_dMdlogDp", "Gaussian fitting", "Lognormal fitting"], "range": ["#8a8a8a", "#0a0aff", "#ff0a0a"]},
              "legend": {"title": null, "orient": "none", "legendX": 13, "legendY": 179, "fillColor": "white", "strokeColor": "black", "padding": 8, "labelFontSize": 16.5, "labelOffset": 10, "rowPadding": 6, "clipHeight": 16.5, "symbolStrokeWidth": 1.8, "encode": {"legend": {"update": {"strokeWidth": {"value": 2}}}}}},
            "shape": {"field": "series", "type": "nominal", "scale": {"domain": ["norm_dMdlogDp", "Gaussian fitting", "Lognormal fitting"], "range": ["circle", "stroke", "stroke"]},
              "legend": {"title": null, "orient": "none", "legendX": 13, "legendY": 179, "fillColor": "white", "strokeColor": "black", "padding": 8, "labelFontSize": 16.5, "labelOffset": 10, "rowPadding": 6, "clipHeight": 16.5, "symbolStrokeWidth": 1.8, "encode": {"legend": {"update": {"strokeWidth": {"value": 2}}}}}},
            "size": {"field": "series", "type": "nominal", "scale": {"domain": ["norm_dMdlogDp", "Gaussian fitting", "Lognormal fitting"], "range": [70, 1089, 1089]},
              "legend": {"title": null, "orient": "none", "legendX": 13, "legendY": 179, "fillColor": "white", "strokeColor": "black", "padding": 8, "labelFontSize": 16.5, "labelOffset": 10, "rowPadding": 6, "clipHeight": 16.5, "symbolStrokeWidth": 1.8, "encode": {"legend": {"update": {"strokeWidth": {"value": 2}}}}}}
          }
        },
        {
          "data": {"name": "l2"},
          "mark": {"type": "line", "strokeWidth": 1.8},
          "encoding": {
            "x": {"field": "d", "type": "quantitative", "scale": {"type": "log", "domain": [86.6, 381.4], "nice": false, "zero": false},
              "axis": {"orient": "top", "values": [90, 100, 200, 300], "labels": false, "title": null,
                "tickSize": {"condition": {"test": "datum.value == 100", "value": 10}, "value": 4}}},
            "y": {"field": "v", "type": "quantitative", "scale": {"domain": [-0.029, 1.037], "nice": false, "zero": false},
              "axis": {"orient": "right", "values": [0, 0.2, 0.4, 0.6, 0.8, 1.0], "labels": false, "tickSize": 5, "title": null}},
            "color": {"field": "series", "type": "nominal", "scale": {"domain": ["norm_dMdlogDp", "Gaussian fitting", "Lognormal fitting"], "range": ["#8a8a8a", "#0a0aff", "#ff0a0a"]},
              "legend": {"title": null, "orient": "none", "legendX": 13, "legendY": 179, "fillColor": "white", "strokeColor": "black", "padding": 8, "labelFontSize": 16.5, "labelOffset": 10, "rowPadding": 6, "clipHeight": 16.5, "symbolStrokeWidth": 1.8, "encode": {"legend": {"update": {"strokeWidth": {"value": 2}}}}}}
          }
        },
        {
          "data": {"values": [{"label": "MCE = 0.90"}]},
          "mark": {"type": "rect", "fill": "white", "stroke": "black", "strokeWidth": 1.6},
          "encoding": {
            "x": {"datum": 227.2, "axis": null}, "x2": {"datum": 363.6},
            "y": {"datum": 0.997, "axis": null}, "y2": {"datum": 0.865}
          }
        },
        {
          "data": {"values": [{"label": "MCE = 0.90"}]},
          "mark": {"type": "text", "fontSize": 18, "font": "DejaVu Sans", "color": "black", "baseline": "middle", "align": "center"},
          "encoding": {
            "x": {"datum": 287.4, "axis": null},
            "y": {"datum": 0.931, "axis": null},
            "text": {"field": "label"}
          }
        }
      ]
    }
  ]
}
